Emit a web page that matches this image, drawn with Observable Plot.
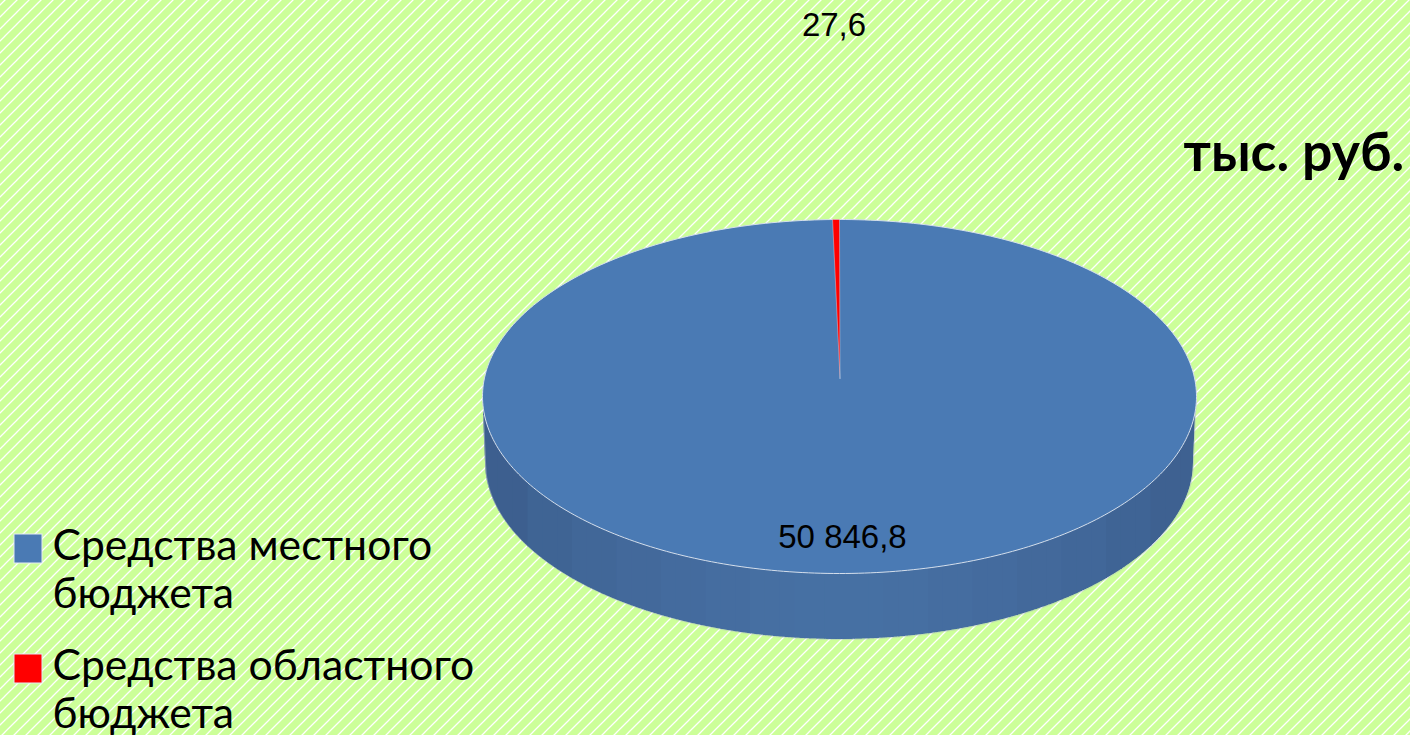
<!DOCTYPE html>
<html lang="ru">
<head>
<meta charset="utf-8">
<script src="https://cdn.jsdelivr.net/npm/d3@7"></script>
<script src="https://cdn.jsdelivr.net/npm/@observablehq/plot@0.6"></script>
<style>
html,body{margin:0;padding:0;overflow:hidden;background:#ccff99}
svg{display:block}
</style>
</head>
<body>
<div id="chart"></div>
<script>
// Chart content
const categories = ["Средства местного", "Средства областного"];
const categoryTail = ["бюджета", "бюджета"];
const values = [50846.8, 27.6];
const valueLabels = ["50 846,8", "27,6"];
const colors = ["#4a7ab4", "#ff0000"];
const unitLabel = "тыс. руб.";
// Angular share each slice occupies in the picture
const drawnShares = [0.9969, 0.0031];
// Shade of the pie's side, left to right
const sideShades = ["#3d5f8f", "#3f6494", "#416798", "#43699b", "#446b9e", "#456da0", "#466fa2", "#4670a3", "#4670a3", "#466fa2", "#456da0", "#446b9e", "#43699b", "#416799", "#3f6495", "#3e6191"];

const W = 1410, H = 735;
const top_ = {cx: 839, cy: 396, rx: 357, ry: 177};
const bot = {cx: 839, cy: 462, rx: 354, ry: 177};
const apex = {x: 839.5, y: 378};
const onEllipse = (e, a) => ({x: e.cx + e.rx * Math.sin(a), y: e.cy - e.ry * Math.cos(a)});

// top disc
const disc = d3.range(0, 361).map(d => onEllipse(top_, d * Math.PI / 180));
// red wedge: ends at 12 o'clock, extends counter-clockwise
const wedgeAngle = drawnShares[1] * 2 * Math.PI;
const wedge = [apex, ...d3.range(0, 9).map(i => onEllipse(top_, -wedgeAngle * (1 - i / 8))), apex];

// side wall, cut into vertical bands
const bandCount = sideShades.length * 3;
const xLeft = top_.cx - top_.rx + 1, xRight = top_.cx + top_.rx - 1;
const yTop = x => {
  const t = Math.min(1, Math.abs(x - top_.cx) / top_.rx);
  return top_.cy + top_.ry * Math.sqrt(1 - t * t);
};
const yBottom = x => {
  const dx = Math.abs(x - bot.cx);
  if (dx <= bot.rx) return bot.cy + bot.ry * Math.sqrt(1 - (dx / bot.rx) ** 2);
  // short straight shoulder from the disc's rim to the lower ellipse
  return bot.cy - (dx - bot.rx) / (top_.rx - 1 - bot.rx) * (bot.cy - (top_.cy + 19));
};
const side = [];
for (let i = 0; i < bandCount; i++) {
  const x0 = xLeft + (xRight - xLeft) * i / bandCount;
  const x1 = xLeft + (xRight - xLeft) * (i + 1) / bandCount + 1;
  const bandFill = sideShades[Math.floor(i / 3)];
  for (const x of d3.range(0, 25).map(k => x0 + (x1 - x0) * k / 24)) {
    const up = yTop(x);
    side.push({x, y1: up - 2, y2: Math.max(yBottom(x), up), band: i, bandFill});
  }
}
const sideEdge = side.map(d => ({x: d.x, y: d.y2})).sort((a, b) => a.x - b.x);

const legend = categories.map((c, i) => ({line1: c, line2: categoryTail[i], fill: colors[i],
  y1: [534, 654][i], y2: [563, 683][i], base1: [559, 679][i], base2: [607, 727][i]}));

const sans = "'Liberation Sans', Arial, sans-serif";
const legendFont = "Lato, 'Open Sans', sans-serif";

const hatchTile = "<svg xmlns='http://www.w3.org/2000/svg' width='12' height='12'><path d='M-3 3L3 -3M-3 15L15 -3M9 15L15 9' stroke='white' stroke-width='1.3' fill='none'/></svg>";

const chart = Plot.plot({
  width: W, height: H, margin: 0,
  x: {domain: [0, W], range: [0, W], axis: null},
  y: {domain: [0, H], range: [0, H], axis: null},
  style: {
    backgroundColor: "#ccff99",
    backgroundImage: `url("data:image/svg+xml,${encodeURIComponent(hatchTile)}")`,
    backgroundSize: "12px 12px",
    backgroundPosition: "5px 0"
  },
  marks: [
    Plot.areaY(side, {x: "x", y1: "y1", y2: "y2", z: "band", fill: "bandFill"}),
    Plot.line(sideEdge, {x: "x", y: "y", stroke: "#b4c0c8", strokeWidth: 0.8, strokeOpacity: 0.7}),
    Plot.line(disc, {x: "x", y: "y", fill: colors[0], stroke: "#d5dfec", strokeWidth: 1}),
    Plot.line(wedge, {x: "x", y: "y", fill: colors[1], stroke: "#e8eef6", strokeWidth: 0.5, strokeOpacity: 0.8}),
    Plot.text([valueLabels[0]], {x: () => 842, y: () => 547, text: d => d, lineAnchor: "bottom", fontFamily: sans, fontSize: 33, fill: "#000"}),
    Plot.text([valueLabels[1]], {x: () => 833.5, y: () => 35, text: d => d, lineAnchor: "bottom", fontFamily: sans, fontSize: 33, fill: "#000"}),
    Plot.text([unitLabel], {x: () => 1183, y: () => 170, text: d => d, textAnchor: "start", lineAnchor: "bottom", fontFamily: legendFont, fontWeight: 700, fontSize: 53.5, fill: "#000"}),
    Plot.rect(legend, {x1: () => 14, x2: () => 42, y1: "y1", y2: "y2", fill: "fill", stroke: "#e4ecf4", strokeWidth: 1}),
    Plot.text(legend, {x: () => 52, y: "base1", text: "line1", textAnchor: "start", lineAnchor: "bottom", fontFamily: legendFont, fontSize: 42.7, fill: "#000"}),
    Plot.text(legend, {x: () => 52, y: "base2", text: "line2", textAnchor: "start", lineAnchor: "bottom", fontFamily: legendFont, fontSize: 42.7, fill: "#000"})
  ]
});
document.getElementById("chart").append(chart);
</script>
</body>
</html>
